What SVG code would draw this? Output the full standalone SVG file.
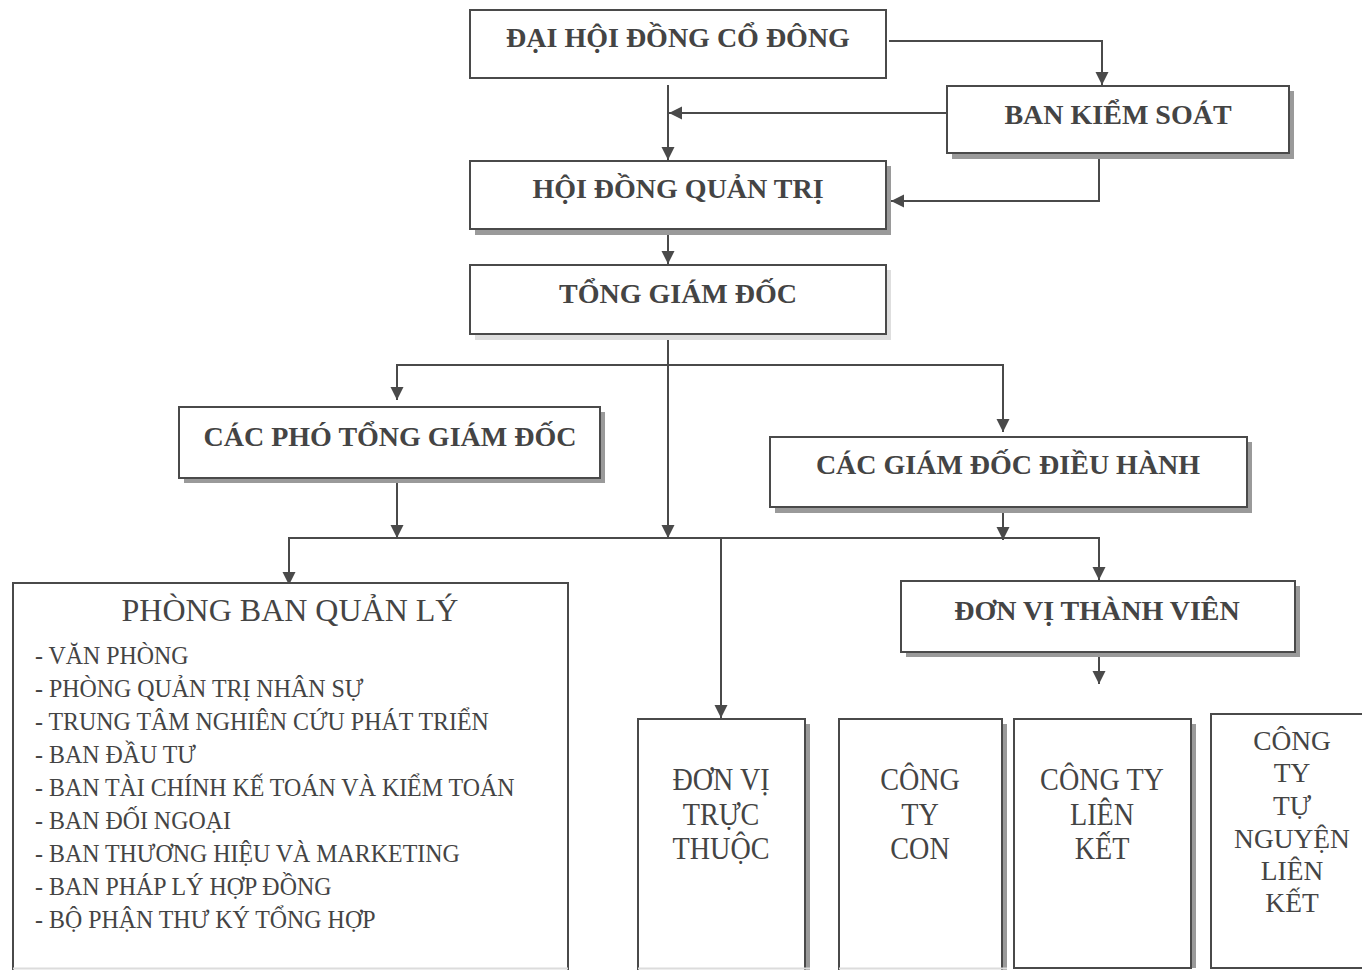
<svg xmlns="http://www.w3.org/2000/svg" width="1362" height="970" viewBox="0 0 1362 970">
<style>
.box{fill:#fff;stroke:#4a4a4a;stroke-width:2}
.sh{fill:#9a9a9a}
.shl{fill:#dedede}
.t{font-family:"Liberation Serif","Times New Roman",serif;font-weight:bold;font-size:28px;fill:#444;text-anchor:middle}
.r{font-family:"Liberation Serif","Times New Roman",serif;font-size:32px;fill:#444;text-anchor:middle}
.rs{font-family:"Liberation Serif","Times New Roman",serif;font-size:28px;fill:#444;text-anchor:middle}
.li{font-family:"Liberation Serif","Times New Roman",serif;font-size:26px;fill:#444}
.c{fill:none;stroke:#4a4a4a;stroke-width:2}
.a{marker-end:url(#ah)}
</style>
<defs>
<marker id="ah" markerUnits="userSpaceOnUse" markerWidth="14" markerHeight="14" refX="13" refY="6.5" orient="auto" viewBox="0 0 14 13">
<path d="M0,0 L13,6.5 L0,13 z" fill="#4a4a4a"/>
</marker>
</defs>
<rect width="1362" height="970" fill="#fff"/>

<g id="connectors">
<path class="c a" d="M889,41 H1102 V85"/>
<path class="c a" d="M947,113 H669"/>
<path class="c a" d="M668,85 V160"/>
<path class="c a" d="M1099,153 V201 H891"/>
<path class="c a" d="M668,229 V264"/>
<path class="c a" d="M668,334 V538"/>
<path class="c" d="M397,365 H1003"/>
<path class="c a" d="M397,364 V400"/>
<path class="c a" d="M1003,364 V432"/>
<path class="c a" d="M397,483 V538"/>
<path class="c" d="M289,538 H1099"/>
<path class="c a" d="M289,537 V585"/>
<path class="c a" d="M721,537 V718"/>
<path class="c a" d="M1099,537 V580"/>
<path class="c a" d="M1003,512 V540"/>
<path class="c a" d="M1099,657 V684"/>
</g>

<g id="n-dhdcd">
<rect class="box" x="470" y="10" width="416" height="68"/>
<text class="t" x="678" y="47">ĐẠI HỘI ĐỒNG CỔ ĐÔNG</text>
</g>

<g id="n-bks">
<rect class="sh" x="952" y="91" width="342" height="68"/>
<rect class="box" x="947" y="86" width="342" height="67"/>
<text class="t" x="1118" y="124">BAN KIỂM SOÁT</text>
</g>

<g id="n-hdqt">
<rect class="sh" x="475" y="166" width="416" height="69"/>
<rect class="box" x="470" y="161" width="416" height="68"/>
<text class="t" x="678" y="198">HỘI ĐỒNG QUẢN TRỊ</text>
</g>

<g id="n-tgd">
<rect class="shl" x="475" y="270" width="416" height="70"/>
<rect class="box" x="470" y="265" width="416" height="69"/>
<text class="t" x="678" y="303">TỔNG GIÁM ĐỐC</text>
</g>

<g id="n-pho">
<rect class="sh" x="184" y="412" width="421" height="71"/>
<rect class="box" x="179" y="407" width="421" height="71"/>
<text class="t" x="390" y="446">CÁC PHÓ TỔNG GIÁM ĐỐC</text>
</g>

<g id="n-gddh">
<rect class="sh" x="775" y="442" width="477" height="71"/>
<rect class="box" x="770" y="437" width="477" height="70"/>
<text class="t" x="1008" y="474">CÁC GIÁM ĐỐC ĐIỀU HÀNH</text>
</g>

<g id="n-dvtv">
<rect class="sh" x="906" y="586" width="394" height="71"/>
<rect class="box" x="901" y="581" width="394" height="71"/>
<text class="t" x="1097" y="620">ĐƠN VỊ THÀNH VIÊN</text>
</g>

<g id="n-phongban">
<rect class="box" x="13" y="583" width="555" height="400"/>
<line x1="13" y1="968.5" x2="568" y2="968.5" stroke="#dcdcdc" stroke-width="2"/>
<text class="r" x="290" y="621">PHÒNG BAN QUẢN LÝ</text>
<g transform="translate(35,0) scale(0.92,1)">
<text class="li" x="0" y="664">- VĂN PHÒNG</text>
<text class="li" x="0" y="697">- PHÒNG QUẢN TRỊ NHÂN SỰ</text>
<text class="li" x="0" y="730">- TRUNG TÂM NGHIÊN CỨU PHÁT TRIỂN</text>
<text class="li" x="0" y="763">- BAN ĐẦU TƯ</text>
<text class="li" x="0" y="796">- BAN TÀI CHÍNH KẾ TOÁN VÀ KIỂM TOÁN</text>
<text class="li" x="0" y="829">- BAN ĐỐI NGOẠI</text>
<text class="li" x="0" y="862">- BAN THƯƠNG HIỆU VÀ MARKETING</text>
<text class="li" x="0" y="895">- BAN PHÁP LÝ HỢP ĐỒNG</text>
<text class="li" x="0" y="928">- BỘ PHẬN THƯ KÝ TỔNG HỢP</text>
</g>
</g>

<g id="n-dvtt">
<rect class="sh" x="642" y="724" width="168" height="260"/>
<rect class="box" x="638" y="719" width="167" height="260"/>
<line x1="638" y1="968.5" x2="810" y2="968.5" stroke="#dcdcdc" stroke-width="2"/>
<g transform="translate(721,0) scale(0.88,1)">
<text class="r" x="0" y="790">ĐƠN VỊ</text>
<text class="r" x="0" y="825">TRỰC</text>
<text class="r" x="0" y="859">THUỘC</text>
</g>
</g>

<g id="n-ctcon">
<rect class="sh" x="843" y="724" width="164" height="260"/>
<rect class="box" x="839" y="719" width="163" height="260"/>
<line x1="839" y1="968.5" x2="1007" y2="968.5" stroke="#dcdcdc" stroke-width="2"/>
<g transform="translate(920,0) scale(0.88,1)">
<text class="r" x="0" y="790">CÔNG</text>
<text class="r" x="0" y="825">TY</text>
<text class="r" x="0" y="859">CON</text>
</g>
</g>

<g id="n-ctlk">
<rect class="sh" x="1019" y="724" width="177" height="244"/>
<rect class="box" x="1014" y="719" width="177" height="249"/>
<g transform="translate(1102,0) scale(0.88,1)">
<text class="r" x="0" y="790">CÔNG TY</text>
<text class="r" x="0" y="825">LIÊN</text>
<text class="r" x="0" y="859">KẾT</text>
</g>
</g>

<g id="n-cttnlk">
<rect class="box" x="1211" y="714" width="160" height="254"/>
<g transform="translate(1292,0) scale(0.98,1)">
<text class="rs" x="0" y="750">CÔNG</text>
<text class="rs" x="0" y="782">TY</text>
<text class="rs" x="0" y="815">TỰ</text>
<text class="rs" x="0" y="848">NGUYỆN</text>
<text class="rs" x="0" y="880">LIÊN</text>
<text class="rs" x="0" y="912">KẾT</text>
</g>
</g>
</svg>
